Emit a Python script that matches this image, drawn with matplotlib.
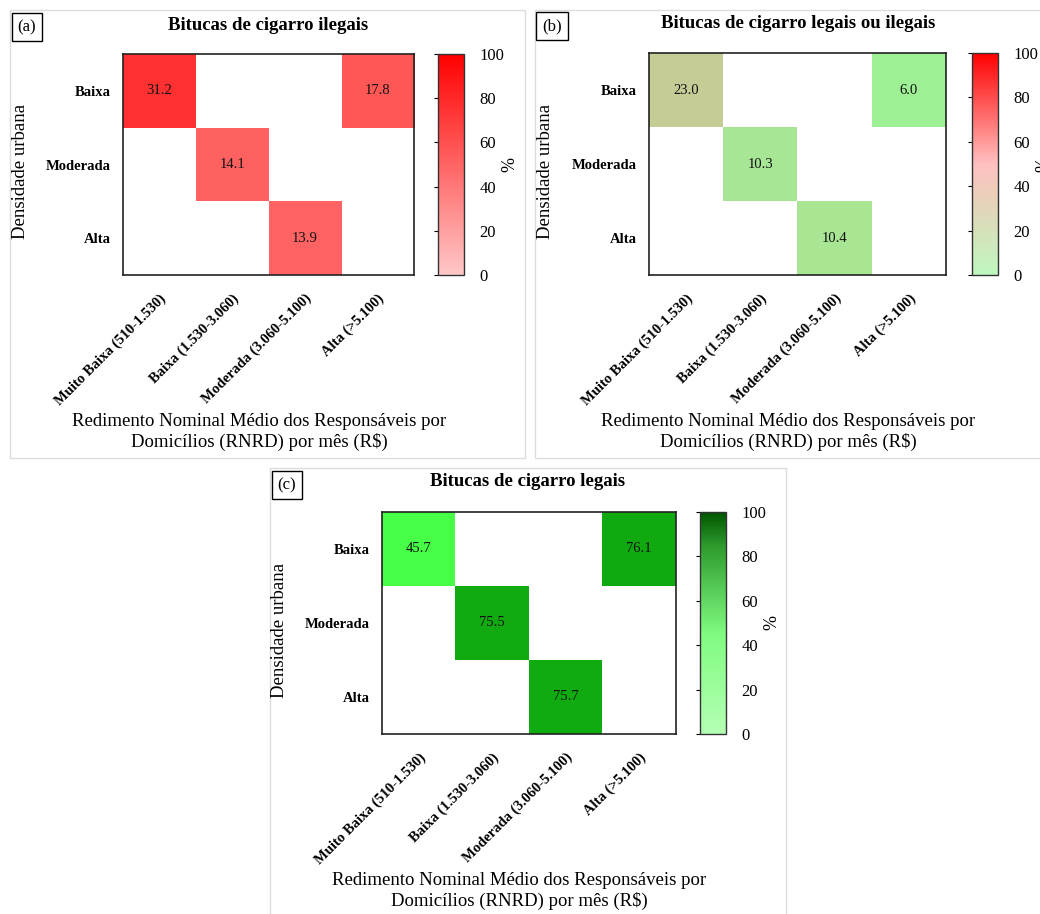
import numpy as np
import matplotlib
matplotlib.use("Agg")
import matplotlib.pyplot as plt
from matplotlib.colors import LinearSegmentedColormap, Normalize
from matplotlib.cm import ScalarMappable
from matplotlib.patches import Rectangle

plt.rcParams["font.family"] = ["Liberation Serif", "DejaVu Serif"]

# rows = urban density, columns = income class
ROWS = ["Baixa", "Moderada", "Alta"]
COLS = ["Muito Baixa (510-1.530)", "Baixa (1.530-3.060)",
        "Moderada (3.060-5.100)", "Alta (>5.100)"]

NAN = np.nan
VALS_A = [[31.2, NAN, NAN, 17.8],
          [NAN, 14.1, NAN, NAN],
          [NAN, NAN, 13.9, NAN]]
VALS_B = [[23.0, NAN, NAN, 6.0],
          [NAN, 10.3, NAN, NAN],
          [NAN, NAN, 10.4, NAN]]
VALS_C = [[45.7, NAN, NAN, 76.1],
          [NAN, 75.5, NAN, NAN],
          [NAN, NAN, 75.7, NAN]]

TITLES = ["Bitucas de cigarro ilegais",
          "Bitucas de cigarro legais ou ilegais",
          "Bitucas de cigarro legais"]
LETTERS = ["(a)", "(b)", "(c)"]
CB_TICKS = [0, 20, 40, 60, 80, 100]

XLABEL = "Redimento Nominal Médio dos Responsáveis por\nDomicílios (RNRD) por mês (R$)"
YLABEL = "Densidade urbana"

W, H = 1040, 914


def fx(px):
    return px / W


def fy(py):
    return 1 - py / H


# colour ramps: cells are shaded over the data range, colourbar over 0-100
CELL_CMAPS = [
    LinearSegmentedColormap.from_list("ca", ["#ff6262", "#ff3030"]),
    LinearSegmentedColormap.from_list("cb", ["#9ef094", "#c5cc96"]),
    LinearSegmentedColormap.from_list("cc", ["#48ff48", "#10aa10"]),
]
BAR_CMAPS = [
    LinearSegmentedColormap.from_list("ba", ["#ffc8c8", "#ff0000"]),
    LinearSegmentedColormap.from_list(
        "bb", [(0, "#bff7bf"), (0.3, "#e2d6b8"), (0.5, "#ffc0c0"), (1, "#ff0000")]),
    LinearSegmentedColormap.from_list(
        "bc", [(0, "#b4ffb4"), (0.45, "#80fb80"), (0.65, "#58cc58"),
               (0.85, "#2c9a2c"), (1, "#005500")]),
]

# panel geometry in pixels: frame, heatmap box, colourbar x, title, labels
PANELS = [
    dict(frame=(10, 10, 525, 458), heat=(123, 54, 414, 275), cbx=438,
         title=(268, 25), letter=(27, 27), ylab=(21, 171), xlab=(259, 432)),
    dict(frame=(535, 10, 1060, 458), heat=(649, 53, 946, 275), cbx=972,
         title=(798, 23), letter=(552, 26), ylab=(546, 171), xlab=(788, 432)),
    dict(frame=(270, 468, 786, 930), heat=(382, 512, 676, 734), cbx=700,
         title=(528, 482), letter=(287, 485), ylab=(280, 630), xlab=(519, 891)),
]

fig = plt.figure(figsize=(W / 100, H / 100), dpi=100, facecolor="white")

for i, (vals, p) in enumerate(zip([VALS_A, VALS_B, VALS_C], PANELS)):
    data = np.ma.masked_invalid(np.array(vals))

    x0, y0, x1, y1 = p["frame"]
    fig.add_artist(Rectangle((fx(x0), fy(y1)), fx(x1 - x0), (y1 - y0) / H,
                             transform=fig.transFigure, fill=False,
                             edgecolor="#dcdcdc", linewidth=1.0))

    hx0, hy0, hx1, hy1 = p["heat"]
    ax = fig.add_axes([fx(hx0), fy(hy1), fx(hx1 - hx0), (hy1 - hy0) / H])
    norm = Normalize(vmin=data.min(), vmax=data.max())
    ax.imshow(data, cmap=CELL_CMAPS[i], norm=norm, aspect="auto",
              interpolation="nearest")
    for r in range(len(ROWS)):
        for c in range(len(COLS)):
            if not np.isnan(vals[r][c]):
                ax.text(c, r, f"{vals[r][c]:.1f}", ha="center", va="center",
                        fontsize=10.5, color="#111111")
    ax.set_xticks(range(len(COLS)))
    ax.set_xticklabels(COLS, rotation=45, ha="right", rotation_mode="anchor",
                       fontsize=10.5, fontweight="bold")
    ax.set_yticks(range(len(ROWS)))
    ax.set_yticklabels(ROWS, fontsize=10.5, fontweight="bold")
    ax.tick_params(length=0, pad=9)
    ax.tick_params(axis="x", pad=12)
    for s in ax.spines.values():
        s.set_linewidth(1.2)
        s.set_edgecolor("#222222")

    cax = fig.add_axes([fx(p["cbx"]), fy(hy1), fx(26), (hy1 - hy0) / H])
    sm = ScalarMappable(norm=Normalize(0, 100), cmap=BAR_CMAPS[i])
    cb = fig.colorbar(sm, cax=cax, ticks=CB_TICKS)
    cb.outline.set_edgecolor("#333333")
    cb.outline.set_linewidth(1.0)
    cax.tick_params(left=True, right=False, labelright=True, labelleft=False,
                    direction="out", length=3, labelsize=12, pad=8)
    cb.set_label("%", fontsize=13, rotation=90, labelpad=-2)

    fig.text(fx(p["title"][0]), fy(p["title"][1]), TITLES[i], ha="center",
             va="center", fontsize=13.5, fontweight="bold")
    fig.text(fx(p["letter"][0]), fy(p["letter"][1]), LETTERS[i], ha="center",
             va="center", fontsize=12,
             bbox=dict(boxstyle="square,pad=0.35", facecolor="white",
                       edgecolor="black", linewidth=1.0))
    fig.text(fx(p["ylab"][0]), fy(p["ylab"][1]), YLABEL, ha="center",
             va="center", rotation=90, fontsize=13.5)
    fig.text(fx(p["xlab"][0]), fy(p["xlab"][1]), XLABEL, ha="center",
             va="center", fontsize=13.5, linespacing=1.15)

fig.savefig("out.png", dpi=100, facecolor="white")
